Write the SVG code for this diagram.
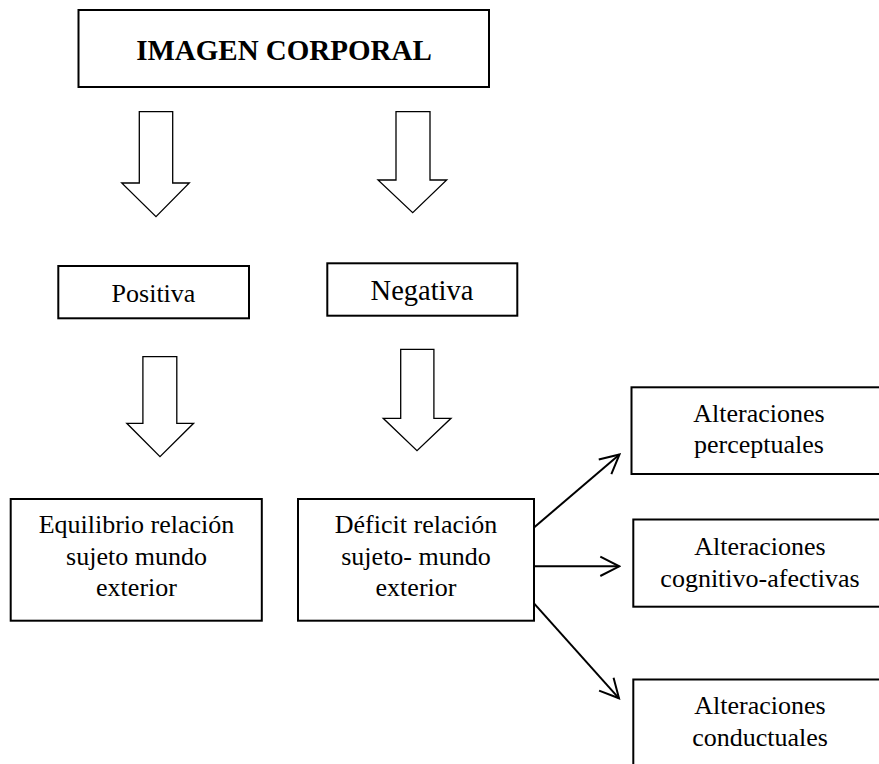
<svg xmlns="http://www.w3.org/2000/svg" width="879" height="764" viewBox="0 0 879 764">
<style>
  .box { fill: #ffffff; stroke: #000000; stroke-width: 2; }
  .blk { fill: #ffffff; stroke: #000000; stroke-width: 1.3; stroke-linejoin: miter; }
  .t { font-family: "Liberation Serif", "Times New Roman", serif; font-size: 26px; fill: #000000; text-anchor: middle; }
  .title { font-family: "Liberation Serif", "Times New Roman", serif; font-size: 29px; font-weight: bold; fill: #000000; text-anchor: middle; }
  .conn { fill: none; stroke: #000000; stroke-width: 2; }
</style>
<defs>
  <marker id="open" markerUnits="userSpaceOnUse" viewBox="-22 -12 24 24" refX="0" refY="0" markerWidth="24" markerHeight="24" orient="auto">
    <path d="M-19,-9.7 L0,0 L-19,9.7" fill="none" stroke="#000000" stroke-width="2"/>
  </marker>
</defs>
<rect width="879" height="764" fill="#ffffff"/>

<g id="imagen-corporal">
  <rect class="box" x="78.5" y="10" width="410.5" height="77" stroke-width="2.4"/>
  <text class="title" x="284" y="59.5">IMAGEN CORPORAL</text>
</g>

<g id="arrow-positiva">
  <polygon class="blk" points="139.3,111.7 172.7,111.7 172.7,183 189.3,183 156,216.7 121.7,183 139.3,183"/>
</g>
<g id="arrow-negativa">
  <polygon class="blk" points="396,111.7 430,111.7 430,180 446.7,180 412.7,212.7 378,180 396,180"/>
</g>

<g id="positiva">
  <rect class="box" x="58.3" y="266" width="190.7" height="52.3"/>
  <text class="t" x="153.5" y="301.7">Positiva</text>
</g>
<g id="negativa">
  <rect class="box" x="327.3" y="263.3" width="190" height="52.4"/>
  <text class="t" x="422" y="300" style="font-size:28.5px">Negativa</text>
</g>

<g id="arrow-equilibrio">
  <polygon class="blk" points="142.9,356.7 176.8,356.7 176.8,423.3 193.6,423.3 160,456.7 126.8,423.3 142.9,423.3"/>
</g>
<g id="arrow-deficit">
  <polygon class="blk" points="400.7,349.3 433.9,349.3 433.9,418.3 451,418.3 417,450.7 383.2,418.3 400.7,418.3"/>
</g>

<g id="equilibrio">
  <rect class="box" x="10.7" y="499" width="251.1" height="121.7"/>
  <text class="t" x="136.5" y="533.3">Equilibrio relación</text>
  <text class="t" x="136.5" y="564.5">sujeto mundo</text>
  <text class="t" x="136.5" y="596">exterior</text>
</g>

<g id="deficit">
  <rect class="box" x="298" y="499" width="236" height="121.7"/>
  <text class="t" x="416" y="533.3">Déficit relación</text>
  <text class="t" x="416" y="564.5">sujeto- mundo</text>
  <text class="t" x="416" y="596">exterior</text>
</g>

<g id="perceptuales">
  <rect class="box" x="631.5" y="387.3" width="256" height="86.7"/>
  <text class="t" x="759" y="421.7">Alteraciones</text>
  <text class="t" x="759" y="453.3">perceptuales</text>
</g>

<g id="cognitivo-afectivas">
  <rect class="box" x="633.3" y="519.5" width="256" height="87.2"/>
  <text class="t" x="760" y="555">Alteraciones</text>
  <text class="t" x="760" y="586.7">cognitivo-afectivas</text>
</g>

<g id="conductuales">
  <rect class="box" x="633.3" y="679.5" width="256" height="100"/>
  <text class="t" x="760" y="714">Alteraciones</text>
  <text class="t" x="760" y="746">conductuales</text>
</g>

<g id="connectors">
  <line class="conn" x1="534" y1="527.5" x2="619.5" y2="454.5" marker-end="url(#open)"/>
  <line class="conn" x1="534" y1="566.3" x2="619.3" y2="566.3" marker-end="url(#open)"/>
  <line class="conn" x1="534" y1="603.3" x2="619" y2="698.3" marker-end="url(#open)"/>
</g>
</svg>
